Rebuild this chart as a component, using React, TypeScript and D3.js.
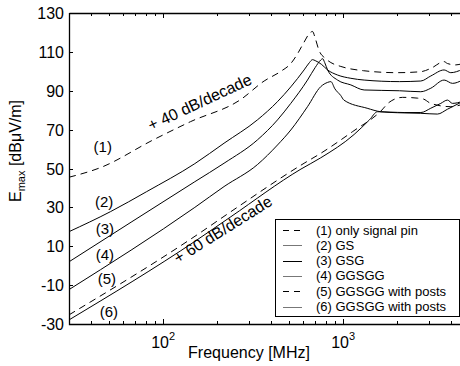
import { useEffect, useRef } from "react";
import * as d3 from "d3";

// frequency in MHz, field strength in dBuV/m
const signalPin: [number, number][] = [
  [30, 45.5], [45, 50.5], [88, 64.7], [142, 74.1], [270, 85.5], [364, 95], [451, 100],
  [512, 104], [558, 109], [607, 115], [650, 119.5], [676, 120.5], [700, 117], [733, 111],
  [800, 106.5], [855, 104.5], [971, 102.5], [1300, 100.3], [2000, 99.3], [2700, 99.8],
  [3070, 101.5], [3640, 105], [3800, 104], [4230, 103.3], [4600, 104],
];
const gs: [number, number][] = [
  [30, 17.5], [51, 27.8], [81, 38.1], [150, 52.5], [218, 63], [334, 75], [432, 84.4],
  [512, 92], [607, 100.7], [650, 104.5], [676, 106], [700, 105.5], [760, 103.5], [820, 100.7],
  [931, 98.1], [1104, 96.4], [1309, 95.5], [2057, 94.7], [2700, 95], [3070, 97.6],
  [3640, 100.7], [3965, 99.3], [4600, 101],
];
const gsg: [number, number][] = [
  [30, 2], [150, 43.2], [218, 52.7], [334, 64.7], [432, 75], [512, 83.5], [634, 95.5],
  [700, 102], [751, 105.8], [769, 106.5], [790, 104.5], [820, 100.7], [931, 95.5],
  [1104, 93], [1309, 90.4], [2057, 90], [2700, 89.5], [3070, 91.3], [3640, 95.5],
  [4052, 93.8], [4600, 95.5],
];
const ggsgg: [number, number][] = [
  [30, -12.3], [150, 30], [218, 40.7], [334, 52], [432, 62.1], [512, 69.8], [634, 81.8],
  [751, 92.1], [820, 94.3], [855, 94.7], [900, 91], [971, 87.5], [1010, 85.2], [1360, 81],
  [1619, 79.2], [2000, 78.7], [2700, 78.4], [3340, 78], [3800, 80.5], [4600, 84.4],
];
const postsDashed: [number, number][] = [
  [30, -25.3], [154, 15.8], [238, 27.8], [607, 52.7], [751, 57.8], [1130, 69], [1619, 79.5],
  [1800, 84], [2140, 86.6], [2588, 86.2], [2800, 85.7], [3069, 83.5], [3965, 81.8],
  [4600, 83],
];
const posts: [number, number][] = [
  [30, -27.9], [154, 13.2], [238, 25.2], [583, 49.7], [751, 55.5], [1151, 67.5], [1400, 75],
  [1553, 79.2], [1840, 79], [2182, 78.8], [2703, 78.8], [3069, 81], [3488, 83.5],
  [3800, 85.2], [4052, 83.5], [4600, 84.5],
];

const seriesData = [signalPin, gs, gsg, ggsgg, postsDashed, posts];
const seriesDashed = [true, false, false, false, true, false];
const seriesNames = [
  "(1) only signal pin",
  "(2) GS",
  "(3) GSG",
  "(4) GGSGG",
  "(5) GGSGG with posts",
  "(6) GGSGG with posts",
];
const curveTags = ["(1)", "(2)", "(3)", "(4)", "(5)", "(6)"];
const tagPos: [number, number][] = [
  [46.2, 61.1], [47, 32.9], [47.5, 19.2], [47.5, 5.5], [48.7, -6.8], [50, -23.7],
];

const yTicks = [130, 110, 90, 70, 50, 30, 10, -10, -30];
const xMinor = [40, 50, 60, 70, 80, 90, 200, 300, 400, 500, 600, 700, 800, 900, 2000, 3000, 4000];
const xMajor = [100, 1000];
const xMajorExp = ["2", "3"];

const App = () => {
  const ref = useRef<HTMLDivElement>(null);

  useEffect(() => {
    const root = d3.select(ref.current);
    root.selectAll("*").remove();

    const width = 460;
    const height = 366;
    const left = 69;
    const top = 13;
    const bottom = 324;

    const x = d3.scaleLog().domain([30, 5000]).range([left, left + 180 * Math.log10(5000 / 30)]);
    const y = d3.scaleLinear().domain([-30, 130]).range([bottom, top]);

    const svg = root
      .append("svg")
      .attr("width", width)
      .attr("height", height)
      .style("display", "block")
      .style("font-family", "Arial, 'Liberation Sans', sans-serif");

    svg.append("rect").attr("width", width).attr("height", height).attr("fill", "white");

    svg
      .append("defs")
      .append("clipPath")
      .attr("id", "plotClip")
      .append("rect")
      .attr("x", left)
      .attr("y", top)
      .attr("width", width - left)
      .attr("height", bottom - top);

    const line = d3
      .line<[number, number]>()
      .x((d) => x(d[0]))
      .y((d) => y(d[1]))
      .curve(d3.curveMonotoneX);

    const plot = svg.append("g").attr("clip-path", "url(#plotClip)");
    seriesData.forEach((data, i) => {
      plot
        .append("path")
        .attr("d", line(data))
        .attr("fill", "none")
        .attr("stroke", "black")
        .attr("stroke-width", 1)
        .attr("stroke-dasharray", seriesDashed[i] ? "7,5" : null);
    });

    // frame
    svg
      .append("path")
      .attr("d", `M${left + 0.5},${top + 0.5} L${width},${top + 0.5} M${left + 0.5},${top} L${left + 0.5},${bottom + 0.5} L${width},${bottom + 0.5}`)
      .attr("fill", "none")
      .attr("stroke", "black")
      .attr("stroke-width", 1.3);

    // ticks
    const tickG = svg.append("g").attr("stroke", "black").attr("stroke-width", 1);
    xMinor.forEach((f) => {
      const px = Math.round(x(f)) + 0.5;
      tickG.append("line").attr("x1", px).attr("x2", px).attr("y1", bottom).attr("y2", bottom - 3);
      tickG.append("line").attr("x1", px).attr("x2", px).attr("y1", top).attr("y2", top + 3);
    });
    xMajor.forEach((f) => {
      const px = Math.round(x(f)) + 0.5;
      tickG.append("line").attr("x1", px).attr("x2", px).attr("y1", bottom).attr("y2", bottom - 5);
      tickG.append("line").attr("x1", px).attr("x2", px).attr("y1", top).attr("y2", top + 5);
    });
    yTicks.forEach((v) => {
      const py = Math.round(y(v)) + 0.5;
      tickG.append("line").attr("x1", left).attr("x2", left + 4).attr("y1", py).attr("y2", py);
    });

    yTicks.forEach((v) => {
      svg
        .append("text")
        .attr("x", left - 5)
        .attr("y", y(v) + 6)
        .attr("text-anchor", "end")
        .attr("font-size", 16)
        .text(v);
    });

    xMajor.forEach((f, i) => {
      const t = svg
        .append("text")
        .attr("x", x(f))
        .attr("y", 348)
        .attr("text-anchor", "middle")
        .attr("font-size", 16);
      t.append("tspan").text("10");
      t.append("tspan").attr("dy", -8).attr("font-size", 11).text(xMajorExp[i]);
    });

    svg
      .append("text")
      .attr("x", 249)
      .attr("y", 358)
      .attr("text-anchor", "middle")
      .attr("font-size", 16)
      .text("Frequency [MHz]");

    const yl = svg
      .append("text")
      .attr("transform", "translate(21,202) rotate(-90)")
      .attr("font-size", 16);
    yl.append("tspan").text("E");
    yl.append("tspan").attr("dy", 4).attr("font-size", 11).text("max");
    yl.append("tspan").attr("dy", -4).text(" [dBμV/m]");

    // curve tags
    curveTags.forEach((t, i) => {
      svg
        .append("text")
        .attr("x", x(tagPos[i][0]))
        .attr("y", y(tagPos[i][1]))
        .attr("dy", "0.35em")
        .attr("text-anchor", "middle")
        .attr("font-size", 15)
        .text(t);
    });

    svg
      .append("text")
      .attr("transform", "translate(151,131) rotate(-25)")
      .attr("font-size", 16)
      .text("+ 40 dB/decade");
    svg
      .append("text")
      .attr("transform", "translate(178,264) rotate(-32)")
      .attr("font-size", 16)
      .text("+ 60 dB/decade");

    // legend
    const lg = svg.append("g");
    lg.append("rect")
      .attr("x", 275.5)
      .attr("y", 219.5)
      .attr("width", 184)
      .attr("height", 97)
      .attr("fill", "white")
      .attr("stroke", "black")
      .attr("stroke-width", 1);
    seriesNames.forEach((name, i) => {
      const cy = 230 + i * 15.3;
      lg.append("line")
        .attr("x1", 283)
        .attr("x2", 302)
        .attr("y1", Math.round(cy) + 0.5)
        .attr("y2", Math.round(cy) + 0.5)
        .attr("stroke", seriesDashed[i] ? "black" : i === 2 ? "black" : "#777")
        .attr("stroke-width", 1)
        .attr("stroke-dasharray", seriesDashed[i] ? "6,5" : null);
      lg.append("text")
        .attr("x", 316)
        .attr("y", cy)
        .attr("dy", "0.35em")
        .attr("font-size", 13)
        .text(name);
    });
  }, []);

  return <div ref={ref} style={{ position: "absolute", left: 0, top: 0 }} />;
};

export default App;
